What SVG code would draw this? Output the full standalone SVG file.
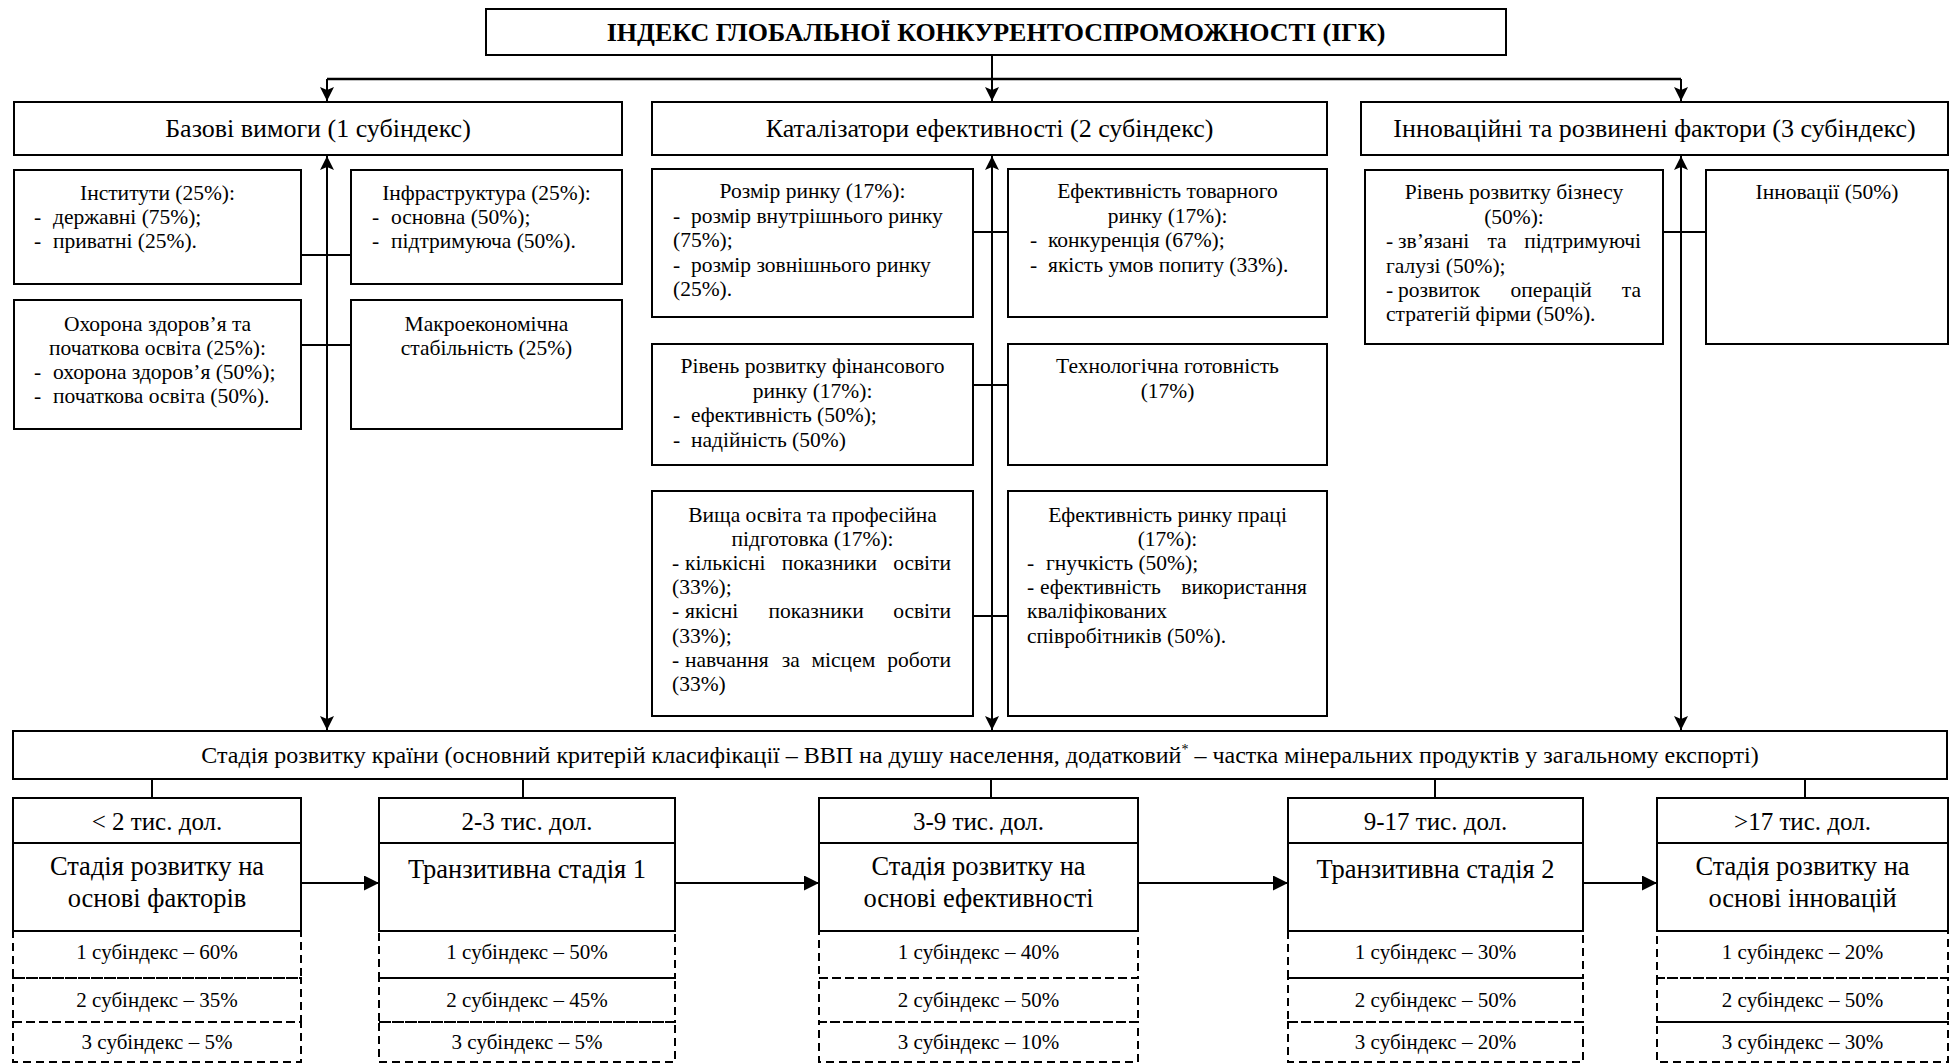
<svg xmlns="http://www.w3.org/2000/svg" width="1957" height="1064" viewBox="0 0 1957 1064">
<defs>
<style>
.box{fill:#fff;stroke:#000;stroke-width:2}
.dash{fill:none;stroke:#000;stroke-width:2;stroke-dasharray:8 5}
.ln{fill:none;stroke:#000;stroke-width:2}
.t{font-family:"Liberation Serif","Times New Roman",serif;fill:#000;font-size:21.5px}
.c{text-anchor:middle}
.e{text-anchor:end}
.title{font-size:26px;font-weight:bold}
.h1{font-size:26px}
.stg{font-size:24px}
.hd{font-size:25px}
.mn{font-size:26.5px}
.sb{font-size:21px}
</style>
<marker id="ah" viewBox="0 0 14 14" refX="14" refY="7" markerWidth="14" markerHeight="14" markerUnits="userSpaceOnUse" orient="auto-start-reverse"><path d="M0,0 L14,7 L0,14 L3,7 z" fill="#000"/></marker>
<marker id="tri" viewBox="0 0 15 15" refX="15" refY="7.5" markerWidth="15" markerHeight="15" markerUnits="userSpaceOnUse" orient="auto"><path d="M0,0 L15,7.5 L0,15 z" fill="#000"/></marker>
</defs>
<rect width="1957" height="1064" fill="#fff"/>

<g id="connectors">
<line class="ln" x1="992" y1="55" x2="992" y2="101" marker-end="url(#ah)"/>
<line class="ln" x1="327" y1="79" x2="1681" y2="79" style="stroke-width:2.5"/>
<line class="ln" x1="327" y1="79" x2="327" y2="101" marker-end="url(#ah)"/>
<line class="ln" x1="1681" y1="79" x2="1681" y2="101" marker-end="url(#ah)"/>
<line class="ln" x1="327" y1="156" x2="327" y2="730" marker-start="url(#ah)" marker-end="url(#ah)"/>
<line class="ln" x1="992" y1="156" x2="992" y2="730" marker-start="url(#ah)" marker-end="url(#ah)"/>
<line class="ln" x1="1681" y1="156" x2="1681" y2="730" marker-start="url(#ah)" marker-end="url(#ah)"/>
<line class="ln" x1="301" y1="255" x2="351" y2="255"/>
<line class="ln" x1="301" y1="345" x2="351" y2="345"/>
<line class="ln" x1="973" y1="232" x2="1008" y2="232"/>
<line class="ln" x1="973" y1="385" x2="1008" y2="385"/>
<line class="ln" x1="973" y1="616" x2="1008" y2="616"/>
<line class="ln" x1="1663" y1="232" x2="1706" y2="232"/>
<line class="ln" x1="152" y1="779" x2="152" y2="798"/>
<line class="ln" x1="523" y1="779" x2="523" y2="798"/>
<line class="ln" x1="991" y1="779" x2="991" y2="798"/>
<line class="ln" x1="1435" y1="779" x2="1435" y2="798"/>
<line class="ln" x1="1805" y1="779" x2="1805" y2="798"/>
<line class="ln" x1="301" y1="883" x2="379" y2="883" marker-end="url(#tri)"/>
<line class="ln" x1="675" y1="883" x2="819" y2="883" marker-end="url(#tri)"/>
<line class="ln" x1="1138" y1="883" x2="1288" y2="883" marker-end="url(#tri)"/>
<line class="ln" x1="1583" y1="883" x2="1657" y2="883" marker-end="url(#tri)"/>
</g>

<g id="title">
<rect class="box" x="486" y="9" width="1020" height="46"/>
<text class="t title c" x="996" y="41">ІНДЕКС ГЛОБАЛЬНОЇ КОНКУРЕНТОСПРОМОЖНОСТІ (ІГК)</text>
</g>

<g id="sub1">
<rect class="box" x="14" y="102" width="608" height="53"/>
<text class="t h1 c" x="318" y="137">Базові вимоги (1 субіндекс)</text>
</g>
<g id="sub2">
<rect class="box" x="652" y="102" width="675" height="53"/>
<text class="t h1 c" x="989.5" y="137">Каталізатори ефективності (2 субіндекс)</text>
</g>
<g id="sub3">
<rect class="box" x="1361" y="102" width="587" height="53"/>
<text class="t h1 c" x="1654.5" y="137">Інноваційні та розвинені фактори (3 субіндекс)</text>
</g>

<g id="institutions">
<rect class="box" x="14" y="170" width="287" height="114"/>
<text class="t c" x="157.5" y="200">Інститути (25%):</text>
<text class="t" x="34" y="224">-</text><text class="t" x="53" y="224">державні (75%);</text>
<text class="t" x="34" y="248">-</text><text class="t" x="53" y="248">приватні (25%).</text>
</g>
<g id="infrastructure">
<rect class="box" x="351" y="170" width="271" height="114"/>
<text class="t c" x="486.5" y="200">Інфраструктура (25%):</text>
<text class="t" x="372" y="224">-</text><text class="t" x="391" y="224">основна (50%);</text>
<text class="t" x="372" y="248">-</text><text class="t" x="391" y="248">підтримуюча (50%).</text>
</g>
<g id="health">
<rect class="box" x="14" y="300" width="287" height="129"/>
<text class="t c" x="157.5" y="331">Охорона здоров’я та</text>
<text class="t c" x="157.5" y="355">початкова освіта (25%):</text>
<text class="t" x="34" y="379">-</text><text class="t" x="53" y="379">охорона здоров’я (50%);</text>
<text class="t" x="34" y="403">-</text><text class="t" x="53" y="403">початкова освіта (50%).</text>
</g>
<g id="macro">
<rect class="box" x="351" y="300" width="271" height="129"/>
<text class="t c" x="486.5" y="331">Макроекономічна</text>
<text class="t c" x="486.5" y="355">стабільність (25%)</text>
</g>

<g id="market-size">
<rect class="box" x="652" y="169" width="321" height="148"/>
<text class="t c" x="812.5" y="198">Розмір ринку (17%):</text>
<text class="t" x="673" y="223">-</text><text class="t" x="691" y="223">розмір внутрішнього ринку</text>
<text class="t" x="673" y="247">(75%);</text>
<text class="t" x="673" y="272">-</text><text class="t" x="691" y="272">розмір зовнішнього ринку</text>
<text class="t" x="673" y="296">(25%).</text>
</g>
<g id="goods-market">
<rect class="box" x="1008" y="169" width="319" height="148"/>
<text class="t c" x="1167.5" y="198">Ефективність товарного</text>
<text class="t c" x="1167.5" y="223">ринку (17%):</text>
<text class="t" x="1030" y="247">-</text><text class="t" x="1048" y="247">конкуренція (67%);</text>
<text class="t" x="1030" y="272">-</text><text class="t" x="1048" y="272">якість умов попиту (33%).</text>
</g>
<g id="financial-market">
<rect class="box" x="652" y="344" width="321" height="121"/>
<text class="t c" x="812.5" y="373">Рівень розвитку фінансового</text>
<text class="t c" x="812.5" y="398">ринку (17%):</text>
<text class="t" x="673" y="422">-</text><text class="t" x="691" y="422">ефективність (50%);</text>
<text class="t" x="673" y="447">-</text><text class="t" x="691" y="447">надійність (50%)</text>
</g>
<g id="technology">
<rect class="box" x="1008" y="344" width="319" height="121"/>
<text class="t c" x="1167.5" y="373">Технологічна готовність</text>
<text class="t c" x="1167.5" y="398">(17%)</text>
</g>
<g id="education">
<rect class="box" x="652" y="491" width="321" height="225"/>
<text class="t c" x="812.5" y="522">Вища освіта та професійна</text>
<text class="t c" x="812.5" y="546">підготовка (17%):</text>
<text class="t" y="570"><tspan x="672">-</tspan><tspan x="685">кількісні</tspan><tspan x="781.7">показники</tspan></text><text class="t e" x="951" y="570">освіти</text>
<text class="t" x="672" y="594">(33%);</text>
<text class="t" y="618"><tspan x="672">-</tspan><tspan x="685">якісні</tspan><tspan x="768.4">показники</tspan></text><text class="t e" x="951" y="618">освіти</text>
<text class="t" x="672" y="643">(33%);</text>
<text class="t" y="667"><tspan x="672">-</tspan><tspan x="685">навчання</tspan><tspan x="781.7">за</tspan><tspan x="811.5">місцем</tspan></text><text class="t e" x="951" y="667">роботи</text>
<text class="t" x="672" y="691">(33%)</text>
</g>
<g id="labour-market">
<rect class="box" x="1008" y="491" width="319" height="225"/>
<text class="t c" x="1167.5" y="522">Ефективність ринку праці</text>
<text class="t c" x="1167.5" y="546">(17%):</text>
<text class="t" x="1027" y="570">-</text><text class="t" x="1046" y="570">гнучкість (50%);</text>
<text class="t" y="594"><tspan x="1027">-</tspan><tspan x="1040">ефективність</tspan></text><text class="t e" x="1307" y="594">використання</text>
<text class="t" x="1027" y="618">кваліфікованих</text>
<text class="t" x="1027" y="643">співробітників (50%).</text>
</g>

<g id="business">
<rect class="box" x="1365" y="170" width="298" height="174"/>
<text class="t c" x="1514" y="199">Рівень розвитку бізнесу</text>
<text class="t c" x="1514" y="224">(50%):</text>
<text class="t" y="248"><tspan x="1386">-</tspan><tspan x="1398">зв’язані</tspan><tspan x="1487.4">та</tspan></text><text class="t e" x="1641" y="248">підтримуючі</text>
<text class="t" x="1386" y="273">галузі (50%);</text>
<text class="t" y="297"><tspan x="1386">-</tspan><tspan x="1398">розвиток</tspan><tspan x="1510.6">операцій</tspan></text><text class="t e" x="1641" y="297">та</text>
<text class="t" x="1386" y="321">стратегій фірми (50%).</text>
</g>
<g id="innovation">
<rect class="box" x="1706" y="170" width="242" height="174"/>
<text class="t c" x="1827" y="199">Інновації (50%)</text>
</g>

<g id="stage">
<rect class="box" x="13" y="731" width="1934" height="48"/>
<text class="t stg c" x="980" y="763">Стадія розвитку країни (основний критерій класифікації – ВВП на душу населення, додатковий<tspan font-size="14" dy="-9">*</tspan><tspan dy="9"> – частка мінеральних продуктів у загальному експорті)</tspan></text>
</g>

<g id="stage1">
<rect class="dash" x="13" y="931" width="288" height="47"/>
<rect class="dash" x="13" y="978" width="288" height="44"/>
<rect class="dash" x="13" y="1022" width="288" height="40"/>
<rect class="box" x="13" y="798" width="288" height="45"/>
<rect class="box" x="13" y="843" width="288" height="88"/>
<text class="t hd c" x="157" y="830">&lt; 2 тис. дол.</text>
<text class="t mn c" x="157" y="875">Стадія розвитку на</text>
<text class="t mn c" x="157" y="907">основі факторів</text>
<text class="t sb c" x="157" y="959">1 субіндекс – 60%</text>
<text class="t sb c" x="157" y="1007">2 субіндекс – 35%</text>
<text class="t sb c" x="157" y="1049">3 субіндекс – 5%</text>
</g>
<g id="stage2">
<rect class="dash" x="379" y="931" width="296" height="47"/>
<rect class="dash" x="379" y="978" width="296" height="44"/>
<rect class="dash" x="379" y="1022" width="296" height="40"/>
<rect class="box" x="379" y="798" width="296" height="45"/>
<rect class="box" x="379" y="843" width="296" height="88"/>
<text class="t hd c" x="527" y="830">2-3 тис. дол.</text>
<text class="t mn c" x="527" y="878">Транзитивна стадія 1</text>
<text class="t sb c" x="527" y="959">1 субіндекс – 50%</text>
<text class="t sb c" x="527" y="1007">2 субіндекс – 45%</text>
<text class="t sb c" x="527" y="1049">3 субіндекс – 5%</text>
</g>
<g id="stage3">
<rect class="dash" x="819" y="931" width="319" height="47"/>
<rect class="dash" x="819" y="978" width="319" height="44"/>
<rect class="dash" x="819" y="1022" width="319" height="40"/>
<rect class="box" x="819" y="798" width="319" height="45"/>
<rect class="box" x="819" y="843" width="319" height="88"/>
<text class="t hd c" x="978.5" y="830">3-9 тис. дол.</text>
<text class="t mn c" x="978.5" y="875">Стадія розвитку на</text>
<text class="t mn c" x="978.5" y="907">основі ефективності</text>
<text class="t sb c" x="978.5" y="959">1 субіндекс – 40%</text>
<text class="t sb c" x="978.5" y="1007">2 субіндекс – 50%</text>
<text class="t sb c" x="978.5" y="1049">3 субіндекс – 10%</text>
</g>
<g id="stage4">
<rect class="dash" x="1288" y="931" width="295" height="47"/>
<rect class="dash" x="1288" y="978" width="295" height="44"/>
<rect class="dash" x="1288" y="1022" width="295" height="40"/>
<rect class="box" x="1288" y="798" width="295" height="45"/>
<rect class="box" x="1288" y="843" width="295" height="88"/>
<text class="t hd c" x="1435.5" y="830">9-17 тис. дол.</text>
<text class="t mn c" x="1435.5" y="878">Транзитивна стадія 2</text>
<text class="t sb c" x="1435.5" y="959">1 субіндекс – 30%</text>
<text class="t sb c" x="1435.5" y="1007">2 субіндекс – 50%</text>
<text class="t sb c" x="1435.5" y="1049">3 субіндекс – 20%</text>
</g>
<g id="stage5">
<rect class="dash" x="1657" y="931" width="291" height="47"/>
<rect class="dash" x="1657" y="978" width="291" height="44"/>
<rect class="dash" x="1657" y="1022" width="291" height="40"/>
<rect class="box" x="1657" y="798" width="291" height="45"/>
<rect class="box" x="1657" y="843" width="291" height="88"/>
<text class="t hd c" x="1802.5" y="830">&gt;17 тис. дол.</text>
<text class="t mn c" x="1802.5" y="875">Стадія розвитку на</text>
<text class="t mn c" x="1802.5" y="907">основі інновацій</text>
<text class="t sb c" x="1802.5" y="959">1 субіндекс – 20%</text>
<text class="t sb c" x="1802.5" y="1007">2 субіндекс – 50%</text>
<text class="t sb c" x="1802.5" y="1049">3 субіндекс – 30%</text>
</g>
</svg>
